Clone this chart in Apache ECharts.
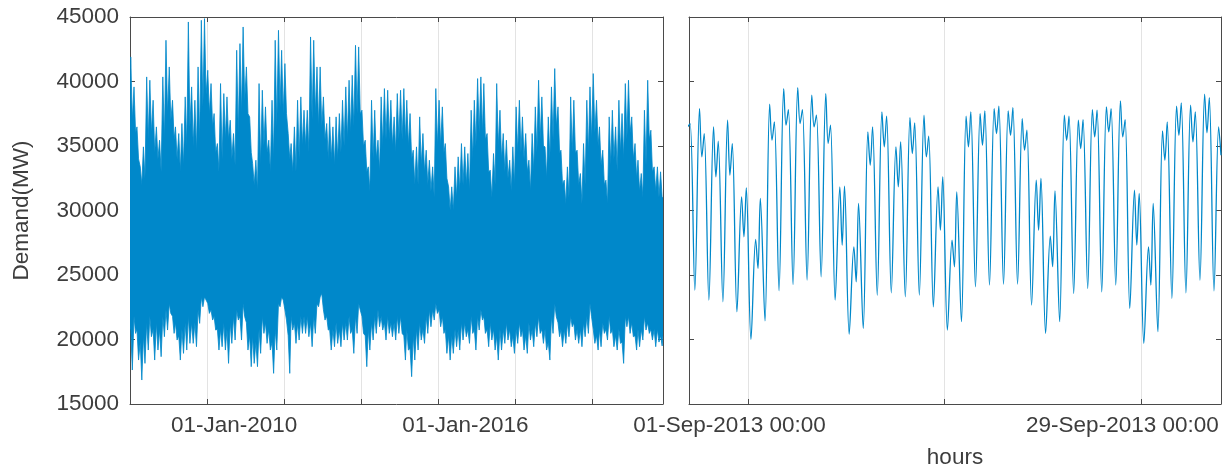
<!DOCTYPE html>
<html><head><meta charset="utf-8">
<script src="https://cdn.jsdelivr.net/npm/echarts@6/dist/echarts.min.js"></script>
<style>html,body{margin:0;padding:0;background:#fff}#c{width:1231px;height:469px}</style>
</head><body><div id="c"></div><script>
// ---------- Left panel: hourly demand (MW) summarised per month, Jan 2006 .. Oct 2019 ----------
const leftStart = [2006, 0];           // year, month index of first month
const leftEnd = [2019, 9, 31];
// monthly highest hour
const leftMonthlyMax = [
 41905,39581,36482,33384,34933,40355,40097,38548,36482,35450,40355,43196,
 41130,38548,36482,35966,36741,38806,44616,39581,38548,41130,44745,44874,
 40872,39839,37515,35191,39839,39064,38806,36999,35966,42421,42937,44228,
 41130,37257,33642,33900,39839,39323,38032,35450,38548,43196,43970,42421,
 41388,35966,35191,36482,38548,38806,37773,37773,43454,43196,41130,41130,
 38806,36741,37257,36482,37257,37515,38548,39581,40097,40485,42808,42679,
 37773,35450,33384,38548,37773,35450,38806,39452,39323,38548,37257,39064,
 39323,39452,38548,37515,34675,34933,37257,35966,34675,33900,33384,39452,
 38548,38032,35191,31835,31835,33384,34159,35191,34933,34417,37773,38548,
 40226,40355,39839,35966,33126,34417,39839,37773,35966,35450,33900,34933,
 38032,38548,37257,35966,33900,35966,38032,40097,38806,34933,37257,39581,
 41001,38032,34675,32351,33384,38806,38548,34675,32868,35191,38548,39581,
 40614,38548,36483,34675,32351,37257,37773,36483,38548,37515,39839,40097,
 37257,35191,33900,32868,37773,40097,36224,33384,33384,33000
];
// monthly lowest hour
const leftMonthlyMin = [
 17634,20474,18408,16859,18150,19183,20216,18408,19183,18667,20216,20732,
 22023,20474,19958,18408,18925,19183,19700,19700,19441,21249,22540,23056,
 22023,21507,20732,19183,19441,19183,18150,19700,19958,21507,19958,21765,
 19183,17892,18150,17892,18925,20474,19700,19183,17376,19183,22540,23056,
 21507,17376,20732,19700,19958,20474,20474,20216,19441,20474,22540,23572,
 21507,20732,19183,19441,19700,19441,19958,19958,20474,18925,20474,22281,
 20474,17892,19183,19958,20474,20990,20732,19958,20474,20216,19958,20474,
 20474,18408,19183,17118,18408,19183,19958,19700,20474,20990,21507,22023,
 20990,20474,18925,18408,18925,19441,19183,19958,20216,19700,20474,19183,
 20732,21507,20474,19441,19958,19183,18408,19183,19700,19958,19441,18925,
 19700,20216,19183,18925,19958,19441,20216,20474,19700,19183,18408,20474,
 21765,20216,19441,19700,20216,20990,19958,19700,19441,20216,20474,21765,
 19700,19183,19441,20474,19958,20474,19441,19183,19700,18150,20990,20474,
 20216,19183,19441,19958,20732,20474,19958,19441,19800,19500
];
// typical daily peak of each month (top of the dense band)
const leftTypicalHigh = [
 37000,36000,34000,32000,32500,35500,36000,34500,34000,33000,35500,37500,
 37000,35500,34000,33000,33500,35000,36500,35000,34500,35500,38000,39000,
 37500,36500,34500,33000,34000,35500,35500,34000,33500,36000,37500,38500,
 37500,34500,32000,31500,33500,35000,34500,33000,34000,36500,38000,37500,
 37500,34000,33000,33000,34000,35000,35000,34500,37000,37500,36500,36500,
 35500,34000,34000,33500,34000,34500,35000,35500,36000,36500,37500,37500,
 35000,33000,31500,34000,34000,33000,35000,35500,35500,35000,34500,35500,
 35500,35500,35000,34000,32000,32000,33500,33000,32000,31500,31000,35000,
 35000,34500,32500,30000,30000,31000,31500,32000,32000,31500,34000,35000,
 36000,36000,35500,33000,31000,32000,35000,34000,33000,32500,31500,32000,
 34500,34500,34000,33000,31500,33000,34500,35500,35000,32500,34000,35500,
 36500,34500,32000,30500,31000,34500,34500,32000,30500,32000,34500,35500,
 36000,35000,33500,32000,30500,33500,34000,33000,34500,34000,35500,36000,
 34000,32500,31500,31000,33500,35500,33000,31500,31000,31000
];
// typical night trough of each month (bottom of the dense band)
const leftTypicalLow = [
 20800,21800,20800,19800,20300,21300,21800,20800,21300,20800,21800,22300,
 22800,21800,21300,20300,20800,21300,21800,21300,21300,22300,23300,23300,
 22800,22300,21800,20800,20800,21300,20800,21300,21800,22300,21800,22800,
 21300,20300,20300,19800,20800,21800,21300,20800,19800,20800,22800,23300,
 22300,20300,21800,21300,21300,21800,21800,21800,21300,21800,22800,23300,
 22300,21800,20800,20800,21300,20800,21300,21300,21800,20800,21800,22800,
 21800,20300,20800,21300,21800,22300,21800,21300,21800,21300,21300,21800,
 21800,20300,20800,19300,20300,20800,21300,20800,21800,22300,22300,22800,
 22300,21800,20800,20300,20300,20800,20800,21300,21300,20800,21800,20800,
 21800,22300,21800,20800,21300,20800,20300,20800,20800,21300,20800,20300,
 20800,21300,20800,20300,21300,20800,21300,21800,20800,20800,19800,21800,
 22800,21300,20800,20800,21300,21800,21300,20800,20800,21300,21800,22800,
 20800,20300,20800,21300,20800,21800,20800,20300,20800,19800,21800,21800,
 21300,20300,20800,20800,21800,21300,20800,20800,20800,20300
];
const leftTickDates = ['2008-01-01','2010-01-01','2012-01-01','2014-01-01','2016-01-01','2018-01-01'];
const leftLabelDates = ['2010-01-01','2016-01-01'];
const leftLabels = ['01-Jan-2010','01-Jan-2016'];

// ---------- Right panel: Sep 2013 hourly demand, key points of each day ----------
const rightFirstDay = '2013-08-27';
const rightRange = ['2013-08-27T19:00', '2013-10-04T17:00'];
const rightHours = [5, 13, 17, 21];   // night trough, midday peak, afternoon dip, evening peak
const rightTrough = [null,23830,23056,22927,22152,20009,21455,23778,24269,24605,24863,23056,20422,
 20861,23443,23624,23314,23443,22539,20732,21378,24089,24218,24295,24295,22669,20474,
 21378,23572,23959,23701,24218,22410,19699,20603,23185,23624,24605,23778];
const rightPeak1 = [null,37902,36482,36999,31060,27755,38238,39452,39529,38935,39064,31835,27187,
 36095,37644,34933,37205,37386,31835,27700,37308,37515,37902,37722,37128,32351,28013,
 37386,36999,37825,38031,38496,31576,27187,36172,38083,38161,39013,36482];
const rightDip = [36500,34158,32609,32738,27962,25509,35449,36612,36740,36482,35191,27316,24476,
 33513,34933,31835,34417,34158,28478,25638,34933,35062,35966,35837,34675,28478,25638,
 35449,34804,35708,36095,35708,27316,24218,33900,35837,35320,36018,34288];
const rightPeak2 = [36740,35966,35372,35191,31757,30931,36870,37825,37825,37386,36611,31886,30544,
 36482,37308,35320,36792,35759,32609,31447,37644,37722,38083,37980,36224,32480,31525,
 37308,37050,37773,37902,37050,31318,30544,36870,38341,37644,38754,null];
const rightTickDates = ['2013-09-01','2013-09-15','2013-09-29'];
const rightLabelDates = ['2013-09-01','2013-09-29'];
const rightLabels = ['01-Sep-2013 00:00','29-Sep-2013 00:00'];

// ---------- build ----------
function ts(s) { const p = s.split(/[-T:]/).map(Number); return Date.UTC(p[0], p[1]-1, p[2], p[3]||0, p[4]||0); }
const L0 = Date.UTC(leftStart[0], leftStart[1], 1), L1 = Date.UTC(leftEnd[0], leftEnd[1], leftEnd[2]);
const R0 = ts(rightRange[0]), R1 = ts(rightRange[1]);
function monthDay(k, day) {
  const y = leftStart[0] + Math.floor((leftStart[1] + k) / 12), m = (leftStart[1] + k) % 12;
  return Date.UTC(y, m, day);
}
const nM = leftMonthlyMax.length;

// outline of the hourly trace: the month's highest hour sits above the typical daily peak,
// the month's lowest hour below the typical night trough
const outlineTop = [[L0, leftTypicalHigh[0]]], outlineBot = [[L0, leftTypicalLow[0]]];
for (let k = 0; k < nM; k++) {
  outlineTop.push([monthDay(k, 8), leftMonthlyMax[k]], [monthDay(k, 23), leftTypicalHigh[k]]);
  outlineBot.push([monthDay(k, 8), leftTypicalLow[k]], [monthDay(k, 23), leftMonthlyMin[k]]);
}
outlineTop.push([L1, leftTypicalHigh[nM - 1]]);
outlineBot.push([L1, leftTypicalLow[nM - 1]]);

const rightData = [];
const base = ts(rightFirstDay);
for (let d = 0; d < rightTrough.length; d++) {
  [rightTrough[d], rightPeak1[d], rightDip[d], rightPeak2[d]].forEach((v, i) => {
    if (v != null) rightData.push([base + d * 864e5 + rightHours[i] * 36e5, v]);
  });
}

const G = [
  {left:130, top:17, width:533, height:387, containLabel: false, outerBoundsMode: 'none'},
  {left:689, top:17, width:532, height:387, containLabel: false, outerBoundsMode: 'none'}
];
const AX = '#4a4a4a', TXT = '#3d3d3d', FONT = '"Liberation Sans", Arial, Helvetica, sans-serif', FS = 22.5;
const BLUE = '#0088ca';

// label placement offset (pixels) as drawn in the reference
const shiftL = -50 * (L1 - L0) / G[0].width;
const shiftR = -18.5 * (R1 - R0) / G[1].width;
const leftLabelPos = leftLabelDates.map(s => ts(s) + shiftL);
const rightLabelPos = rightLabelDates.map(s => ts(s) + shiftR);
function nearest(v, pos, txt) {
  let b = 0; pos.forEach((p, i) => { if (Math.abs(p - v) < Math.abs(pos[b] - v)) b = i; });
  return txt[b];
}

function xAx(gi, min, max, pos, ticks, labels) {
  return {
    type: 'value', gridIndex: gi, position: pos, min: min, max: max, scale: true,
    axisLine: {show: true, onZero: false, lineStyle: {color: AX, width: 1}},
    axisTick: {show: true, inside: true, length: 5, customValues: ticks, lineStyle: {color: AX, width: 1}},
    splitLine: {show: pos === 'bottom', lineStyle: {color: '#e3e3e3', width: 1}},
    axisLabel: labels ? {show: true, customValues: labels.pos, formatter: v => nearest(v, labels.pos, labels.txt),
      fontSize: FS, color: TXT, fontFamily: FONT, margin: 10.5, hideOverlap: false} : {show: false},
    axisPointer: {show: false}
  };
}
function yAx(gi, pos, showLabels) {
  return {
    type: 'value', gridIndex: gi, position: pos, min: 15000, max: 45000, interval: 5000,
    axisLine: {show: true, onZero: false, lineStyle: {color: AX, width: 1}},
    axisTick: {show: true, inside: true, length: 5, lineStyle: {color: AX, width: 1}},
    splitLine: {show: false},
    axisLabel: {show: showLabels, formatter: v => String(v), fontSize: FS, color: TXT, fontFamily: FONT, margin: 11},
    axisPointer: {show: false}
  };
}

const xAxes = [
  xAx(0, L0, L1, 'bottom', leftTickDates.map(ts), {pos: leftLabelPos, txt: leftLabels}),
  xAx(0, L0, L1, 'top', leftTickDates.map(ts), null),
  Object.assign(xAx(1, R0, R1, 'bottom', rightTickDates.map(ts), {pos: rightLabelPos, txt: rightLabels}),
    {name: 'hours', nameLocation: 'middle', nameGap: 42, nameTextStyle: {fontSize: FS, color: TXT, fontFamily: FONT}}),
  xAx(1, R0, R1, 'top', rightTickDates.map(ts), null)
];
const yAxes = [
  Object.assign(yAx(0, 'left', true), {name: 'Demand(MW)', nameLocation: 'middle', nameGap: 97,
    nameTextStyle: {fontSize: FS, color: TXT, fontFamily: FONT}}),
  yAx(0, 'right', false),
  yAx(1, 'left', false),
  yAx(1, 'right', false)
];

const chart = echarts.init(document.getElementById('c'), null, {renderer: 'canvas'});
chart.setOption({
  animation: false,
  backgroundColor: '#fff',
  grid: G,
  xAxis: xAxes,
  yAxis: yAxes,
  series: [
    {type: 'custom', xAxisIndex: 0, yAxisIndex: 0, data: [[L0, 30000]], silent: true, clip: true,
     renderItem: function (params, api) {
       const pts = outlineTop.map(p => api.coord(p)).concat(outlineBot.slice().reverse().map(p => api.coord(p)));
       return {type: 'polygon', shape: {points: pts}, style: {fill: BLUE, stroke: BLUE, lineWidth: 0.8, lineJoin: 'miter'}};
     }},
    {type: 'line', xAxisIndex: 2, yAxisIndex: 2, data: rightData, showSymbol: false, silent: true,
     smooth: 0.35, lineStyle: {color: BLUE, width: 1.3}, clip: true}
  ]
});
</script></body></html>
